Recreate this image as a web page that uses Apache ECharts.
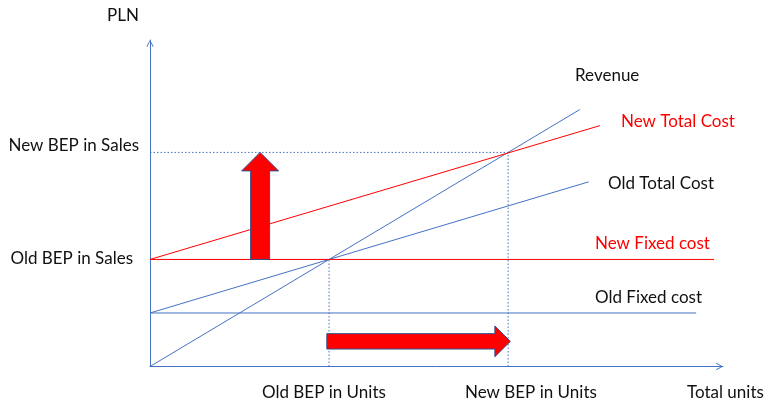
<!DOCTYPE html>
<html>
<head>
<meta charset="utf-8">
<script src="https://cdn.jsdelivr.net/npm/echarts@6/dist/echarts.min.js"></script>
<style>
  html, body { margin: 0; padding: 0; background: #fff; }
  #chart { width: 769px; height: 404px; }
</style>
</head>
<body>
<div id="chart"></div>
<script>
// Break-even diagram: price 1 per unit, variable cost 0.5 per unit,
// fixed cost rising from 20 to 40 PLN moves the break-even point.
var revenue      = [[0, 0], [96, 96]];
var oldTotalCost = [[0, 20], [98, 69]];
var newTotalCost = [[0, 40], [100.5, 90]];
var oldFixedCost = [[0, 20], [122, 20]];
var newFixedCost = [[0, 40], [126, 40]];

var oldBEP = [40, 40];   // units, PLN
var newBEP = [80, 80];

// Guide lines dropped from the break-even points
var guideNewSales = [[0, newBEP[1]], newBEP];
var guideNewUnits = [[newBEP[0], 0], newBEP];
var guideOldSales = [[0, oldBEP[1]], oldBEP];
var guideOldUnits = [[oldBEP[0], 0], oldBEP];

// Shift arrows: [x1, y1, x2, y2]
var salesShift = [24.6, 40, 24.6, 80];
var unitsShift = [39.5, 9.4, 80.5, 9.4];

var BLUE = '#4472C4';
var RED = '#FF0000';
var FONT = 'Lato, "Open Sans", sans-serif';

var chart = echarts.init(document.getElementById('chart'), null, { renderer: 'canvas' });

function lineSeries(name, data, color, dashed, z) {
  return {
    name: name,
    type: 'line',
    data: data,
    symbol: 'none',
    silent: true,
    animation: false,
    z: z,
    lineStyle: { color: color, width: 1, type: dashed ? [1.5, 2] : 'solid' }
  };
}

// Block arrow drawn between two data points, sized in pixels
function arrowRenderer(shaftHalf, headHalf, headLen) {
  return function (params, api) {
    var p1 = api.coord([api.value(0), api.value(1)]);
    var p2 = api.coord([api.value(2), api.value(3)]);
    var dx = p2[0] - p1[0], dy = p2[1] - p1[1];
    var len = Math.sqrt(dx * dx + dy * dy);
    var ux = dx / len, uy = dy / len;
    var nx = -uy, ny = ux;
    var bx = p2[0] - ux * headLen, by = p2[1] - uy * headLen;
    var pts = [
      [p1[0] + nx * shaftHalf, p1[1] + ny * shaftHalf],
      [bx + nx * shaftHalf, by + ny * shaftHalf],
      [bx + nx * headHalf, by + ny * headHalf],
      [p2[0], p2[1]],
      [bx - nx * headHalf, by - ny * headHalf],
      [bx - nx * shaftHalf, by - ny * shaftHalf],
      [p1[0] - nx * shaftHalf, p1[1] - ny * shaftHalf]
    ];
    return {
      type: 'polygon',
      shape: { points: pts },
      style: { fill: RED, stroke: '#2F528F', lineWidth: 1 }
    };
  };
}

var chevron = 'path://M0,9 L5,0 L10,9 L9,10 L5,2.2 L1,10 Z';

function label(text, x, y, align, color) {
  return {
    type: 'text',
    x: x, y: y,
    silent: true,
    style: {
      text: text,
      fill: color || '#111',
      font: '17px ' + FONT,
      align: align || 'left',
      verticalAlign: 'middle'
    }
  };
}

chart.setOption({
  animation: false,
  backgroundColor: '#fff',
  grid: { left: 150, top: 40, right: 46, bottom: 37.5 },
  xAxis: {
    type: 'value', min: 0, max: 128,
    axisLine: {
      show: true, onZero: false,
      lineStyle: { color: BLUE, width: 1 },
      symbol: ['none', chevron], symbolSize: [8, 7], symbolOffset: [0, -3.5]
    },
    axisTick: { show: false }, axisLabel: { show: false }, splitLine: { show: false }
  },
  yAxis: {
    type: 'value', min: 0, max: 122,
    axisLine: {
      show: true, onZero: false,
      lineStyle: { color: BLUE, width: 1 },
      symbol: ['none', chevron], symbolSize: [8, 7], symbolOffset: [0, -3.5]
    },
    axisTick: { show: false }, axisLabel: { show: false }, splitLine: { show: false }
  },
  series: [
    lineSeries('guideNewSales', guideNewSales, BLUE, true, 1),
    lineSeries('guideNewUnits', guideNewUnits, BLUE, true, 1),
    lineSeries('guideOldSales', guideOldSales, BLUE, true, 1),
    lineSeries('guideOldUnits', guideOldUnits, BLUE, true, 1),
    lineSeries('Old Fixed cost', oldFixedCost, BLUE, false, 2),
    lineSeries('Old Total Cost', oldTotalCost, BLUE, false, 2),
    lineSeries('Revenue', revenue, BLUE, false, 2),
    lineSeries('New Fixed cost', newFixedCost, RED, false, 3),
    lineSeries('New Total Cost', newTotalCost, RED, false, 3),
    {
      type: 'custom', silent: true, z: 5,
      renderItem: arrowRenderer(9.5, 18.5, 18.5),
      data: [salesShift]
    },
    {
      type: 'custom', silent: true, z: 5,
      renderItem: arrowRenderer(7.7, 15.4, 15.5),
      data: [unitsShift]
    }
  ],
  graphic: [
    label('PLN', 107, 16),
    label('New BEP in Sales', 139, 146, 'right'),
    label('Old BEP in Sales', 133, 259, 'right'),
    label('Revenue', 575, 76),
    label('New Total Cost', 621, 122, 'left', RED),
    label('Old Total Cost', 608, 184),
    label('New Fixed cost', 595, 244, 'left', RED),
    label('Old Fixed cost', 595, 298),
    label('Old BEP in Units', 262, 393),
    label('New BEP in Units', 465, 393),
    label('Total units', 687, 393)
  ]
});
</script>
</body>
</html>
